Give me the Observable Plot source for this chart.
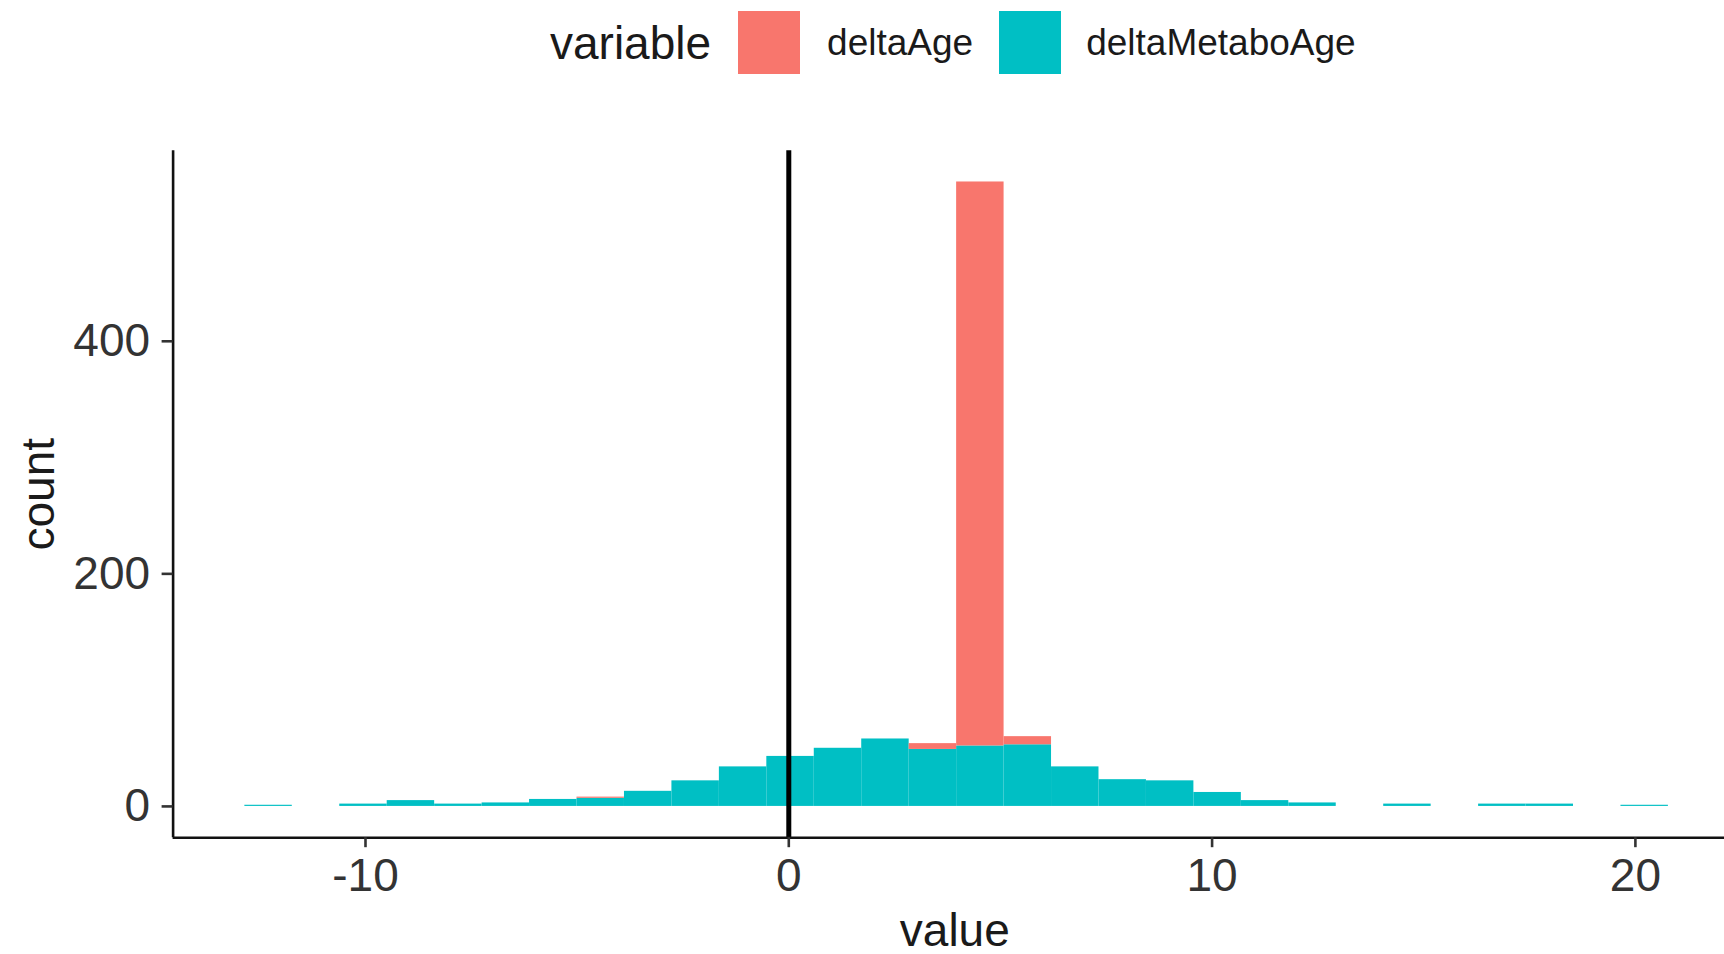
<!DOCTYPE html>
<html>
<head>
<meta charset="utf-8">
<script src="https://cdn.jsdelivr.net/npm/d3@7"></script>
<script src="https://cdn.jsdelivr.net/npm/@observablehq/plot@0.6"></script>
<style>
  html, body { margin: 0; padding: 0; background: #fff; }
  body { width: 1724px; height: 954px; overflow: hidden; font-family: "Liberation Sans", Arial, sans-serif; }
  #legend { height: 100px; width: 1724px; box-sizing: border-box; padding-left: 550px; padding-top: 11px; display: flex; align-items: flex-start; }
  #legend .row { display: flex; align-items: center; height: 63px; }
  #legend .title { font-size: 46px; color: #1a1a1a; margin-right: 27px; }
  #legend .key { width: 62px; height: 63px; }
  #legend .lab { font-size: 37px; color: #1a1a1a; }
</style>
</head>
<body>
<div id="legend"></div>
<div id="chart"></div>
<script>
// ---- data ----
const series = ["deltaAge", "deltaMetaboAge"];
const seriesColors = ["#F8766D", "#00BFC4"];
const legendTitle = "variable";

// 30 histogram bins: edges
const binEdges = [-12.85, -11.729, -10.608, -9.487, -8.366, -7.245, -6.124, -5.003, -3.882, -2.761,
  -1.64, -0.519, 0.602, 1.723, 2.844, 3.965, 5.086, 6.207, 7.328, 8.449,
  9.57, 10.691, 11.812, 12.933, 14.054, 15.175, 16.296, 17.417, 18.538, 19.659, 20.78];

const deltaMetaboAgeCounts = [1, 0, 2, 5, 2, 3, 6, 7, 13, 22,
  34, 43, 50, 58, 49, 52, 53, 34, 23, 22,
  12, 5, 3, 0, 2, 0, 2, 2, 0, 1];

const deltaAgeCounts = [0, 0, 0, 0, 0, 0, 0, 1, 0, 0,
  0, 0, 0, 0, 5, 485, 7, 0, 0, 0,
  0, 0, 0, 0, 0, 0, 0, 0, 0, 0];

const xTicks = [-10, 0, 10, 20];
const yTicks = [0, 200, 400];
const vlineAt = [0];
const xLabel = "value";
const yLabel = "count";

// ---- table (stacked: deltaMetaboAge at the bottom, deltaAge on top) ----
const rows = [];
deltaMetaboAgeCounts.forEach((c, i) => {
  if (c > 0) rows.push({variable: "deltaMetaboAge", x1: binEdges[i], x2: binEdges[i + 1], y1: 0, y2: c});
});
deltaAgeCounts.forEach((c, i) => {
  const base = deltaMetaboAgeCounts[i];
  if (c > 0) rows.push({variable: "deltaAge", x1: binEdges[i], x2: binEdges[i + 1], y1: base, y2: base + c});
});

const xDomain = [-14.545, 22.105];
const yDomain = [-26.9, 563.9];

// ---- legend ----
const legend = document.getElementById("legend");
const row = document.createElement("div");
row.className = "row";
const t = document.createElement("span");
t.className = "title";
t.textContent = legendTitle;
row.appendChild(t);
const gaps = [[27, 26], [25, 0]];
series.forEach((s, i) => {
  const k = document.createElement("div");
  k.className = "key";
  k.style.background = seriesColors[i];
  k.style.marginRight = gaps[i][0] + "px";
  row.appendChild(k);
  const l = document.createElement("span");
  l.className = "lab";
  l.textContent = s;
  l.style.marginRight = gaps[i][1] + "px";
  row.appendChild(l);
});
legend.appendChild(row);

// ---- plot ----
const chart = Plot.plot({
  width: 1724,
  height: 854,
  marginLeft: 172.6,
  marginRight: 0,
  marginTop: 50.2,
  marginBottom: 116.8,
  style: {fontFamily: "Liberation Sans, Arial, sans-serif", background: "#fff", color: "#333", overflow: "visible"},
  x: {domain: xDomain},
  y: {domain: yDomain},
  color: {domain: series, range: seriesColors},
  marks: [
    Plot.rect(rows, {x1: "x1", x2: "x2", y1: "y1", y2: "y2", fill: "variable"}),
    Plot.ruleX(vlineAt, {stroke: "#000", strokeWidth: 5}),
    Plot.ruleX([xDomain[0]], {stroke: "#111", strokeWidth: 2.6}),
    Plot.ruleY([yDomain[0]], {stroke: "#111", strokeWidth: 2.6}),
    Plot.axisX({ticks: xTicks, tickFormat: d => String(d), tickSize: 10, tickPadding: 11, label: null,
      fontSize: 46, strokeWidth: 2.6, stroke: "#333", fill: "#333"}),
    Plot.axisY({ticks: yTicks, tickFormat: d => String(d), tickSize: 11, tickPadding: 12, label: null,
      fontSize: 46, strokeWidth: 2.6, stroke: "#333", fill: "#333"}),
    Plot.text([xLabel], {text: d => d, frameAnchor: "bottom", dx: 6, dy: 94, lineAnchor: "middle",
      textAnchor: "middle", fontSize: 46, fill: "#1a1a1a"}),
    Plot.text([yLabel], {text: d => d, frameAnchor: "left", dx: -134, rotate: -90, lineAnchor: "middle",
      textAnchor: "middle", fontSize: 46, fill: "#1a1a1a"})
  ]
});
document.getElementById("chart").appendChild(chart);
</script>
</body>
</html>
